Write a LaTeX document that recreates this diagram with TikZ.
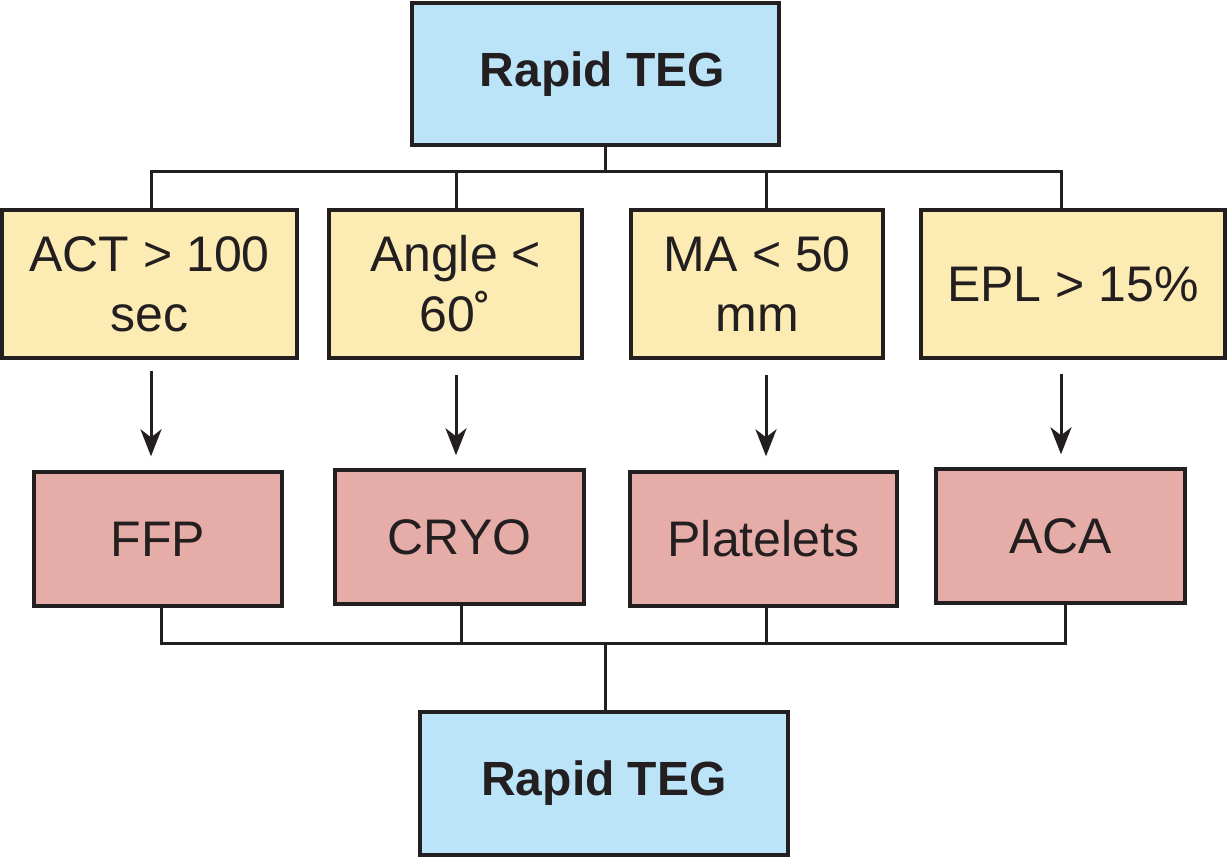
\documentclass[tikz,border=0pt]{standalone}
\usepackage{fontspec}
\setmainfont{Liberation Sans}
\usetikzlibrary{arrows.meta,calc}
\definecolor{tegblue}{RGB}{187,228,248}
\definecolor{tegyellow}{RGB}{253,235,180}
\definecolor{tegred}{RGB}{230,173,168}
\definecolor{ink}{RGB}{35,31,32}
\begin{document}
\begin{tikzpicture}[x=1pt,y=-1pt,
  basebox/.style={draw=ink, line width=3.4pt, inner sep=0pt, align=center, text=ink,
    font=\fontsize{50}{60}\selectfont},
  tegbox/.style={basebox, fill=tegblue, minimum height=142pt,
    font=\fontsize{48}{58}\selectfont\bfseries},
  testbox/.style={basebox, fill=tegyellow, minimum height=148pt},
  prodbox/.style={basebox, fill=tegred, minimum height=134pt},
  link/.style={draw=ink, line width=3pt},
  arr/.style={draw=ink, line width=3pt, -{Stealth[length=27pt,width=21pt,inset=8pt]}}]
\useasboundingbox (0,0) rectangle (1228,857);

% boxes
\node[tegbox, minimum width=367pt] (top) at (595.5,74) {\hspace*{14pt}Rapid TEG};
\node[testbox, minimum width=295pt] (Y1) at (149.5,284) {ACT > 100\\sec};
\node[testbox, minimum width=253pt] (Y2) at (455.5,284) {Angle <\\60\char"02DA};
\node[testbox, minimum width=252pt] (Y3) at (757,284) {MA < 50\\mm};
\node[testbox, minimum width=304pt] (Y4) at (1073,284) {EPL > 15\%};
\node[prodbox, minimum width=248pt] (R1) at (158,539) {FFP};
\node[prodbox, minimum width=249pt] (R2) at (459.5,537) {CRYO};
\node[prodbox, minimum width=267pt] (R3) at (763.5,539) {Platelets};
\node[prodbox, minimum width=249pt] (R4) at (1060.5,536) {ACA};
\node[tegbox, minimum width=368pt, minimum height=143pt] (bot) at (604,783.5) {Rapid TEG};

% helper columns
\coordinate (mid) at (605,0);
\coordinate (c1) at (151,0);
\coordinate (c2) at (456,0);
\coordinate (c3) at (766,0);
\coordinate (c4) at (1061,0);
\coordinate (d1) at (161,0);
\coordinate (d2) at (461,0);
\coordinate (d3) at (766,0);
\coordinate (d4) at (1065,0);
\coordinate (busT) at (0,171);
\coordinate (busB) at (0,643);

% top distribution
\draw[link] (top.south -| mid) -- (busT -| mid);
\draw[link] (Y1.north -| c1) -- (busT -| c1) -- (busT -| c4) -- (Y4.north -| c4);
\draw[link] (Y2.north -| c2) -- (busT -| c2);
\draw[link] (Y3.north -| c3) -- (busT -| c3);

% arrows
\draw[arr] ($(Y1.south -| c1)+(0,11)$) -- ($(R1.north -| c1)+(0,-14)$);
\draw[arr] ($(Y2.south -| c2)+(0,15)$) -- ($(R2.north -| c2)+(0,-13)$);
\draw[arr] ($(Y3.south -| c3)+(0,15)$) -- ($(R3.north -| c3)+(0,-14)$);
\draw[arr] ($(Y4.south -| c4)+(0,14)$) -- ($(R4.north -| c4)+(0,-13)$);

% bottom collection
\draw[link] (R1.south -| d1) -- (busB -| d1) -- (busB -| d4) -- (R4.south -| d4);
\draw[link] (R2.south -| d2) -- (busB -| d2);
\draw[link] (R3.south -| d3) -- (busB -| d3);
\draw[link] (busB -| mid) -- (bot.north -| mid);
\end{tikzpicture}
\end{document}
